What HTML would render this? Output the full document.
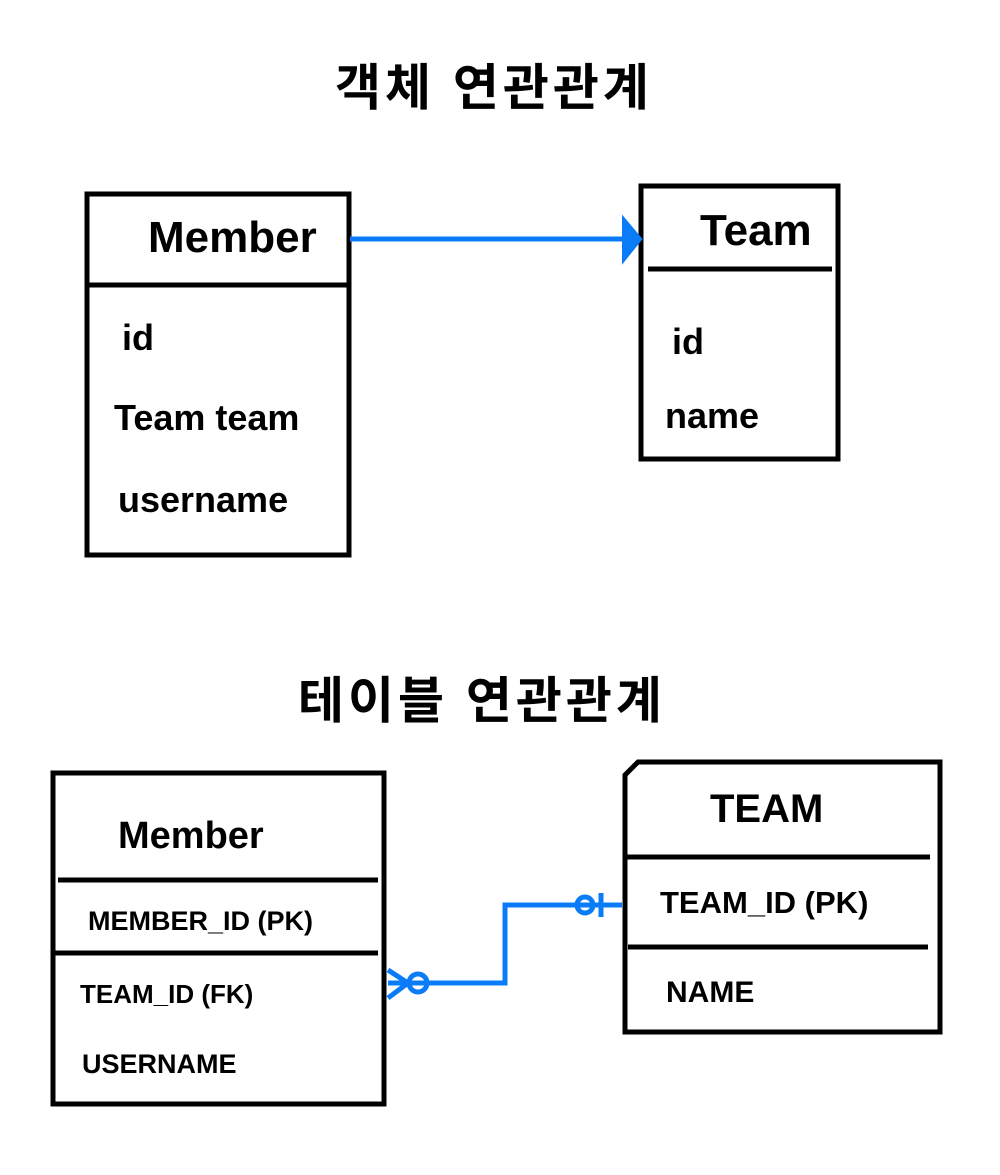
<!DOCTYPE html>
<html><head><meta charset="utf-8"><style>
html,body{margin:0;padding:0;background:#fff;}
svg{display:block}
text{font-family:"Liberation Sans","Noto Sans CJK KR",sans-serif;fill:#000;font-weight:bold;}
</style></head><body>
<svg width="1000" height="1175" viewBox="0 0 1000 1175" xmlns="http://www.w3.org/2000/svg">
<g stroke="#000" stroke-width="5" fill="none">
<rect x="87" y="194" width="262" height="361"/>
<line x1="87" y1="285" x2="349" y2="285"/>
<rect x="641" y="186" width="197" height="273"/>
<line x1="648" y1="269" x2="832" y2="269"/>
<rect x="53" y="773" width="331" height="331"/>
<line x1="58" y1="880" x2="378" y2="880"/>
<line x1="55" y1="953" x2="378" y2="953"/>
<path d="M625 1032 V775 L638 762 H940 V1032 Z"/>
<line x1="625" y1="857" x2="930" y2="857"/>
<line x1="628" y1="947" x2="928" y2="947"/>
</g>
<g stroke="#0a7cf7" stroke-width="5" fill="none">
<line x1="350" y1="239" x2="628" y2="239"/>
<path d="M388 983 H505 V905 H622"/>
<path d="M388 970 L408 983 L388 998"/>
<circle cx="418" cy="983" r="9"/>
<circle cx="585" cy="905" r="8"/>
<line x1="601" y1="893" x2="601" y2="917"/>
</g>
<path d="M624 220 L640 239 L624 259 Z" fill="#0a7cf7" stroke="#0a7cf7" stroke-width="4"/>
<text x="335" y="105" font-size="50" letter-spacing="4" font-weight="normal">객체 연관관계</text>
<text x="298" y="718" font-size="50" letter-spacing="4" font-weight="normal">테이블 연관관계</text>
<text x="148" y="252" font-size="44">Member</text>
<text x="122" y="350" font-size="36">id</text>
<text x="114" y="430" font-size="36">Team team</text>
<text x="118" y="512" font-size="36">username</text>
<text x="700" y="245" font-size="44">Team</text>
<text x="672" y="354" font-size="36">id</text>
<text x="665" y="428" font-size="36">name</text>
<text x="118" y="848" font-size="38">Member</text>
<text x="88" y="930" font-size="27">MEMBER_ID (PK)</text>
<text x="80" y="1003" font-size="26">TEAM_ID (FK)</text>
<text x="82" y="1073" font-size="27">USERNAME</text>
<text x="710" y="822" font-size="40">TEAM</text>
<text x="660" y="913" font-size="31">TEAM_ID (PK)</text>
<text x="666" y="1002" font-size="30">NAME</text>
</svg>
</body></html>
